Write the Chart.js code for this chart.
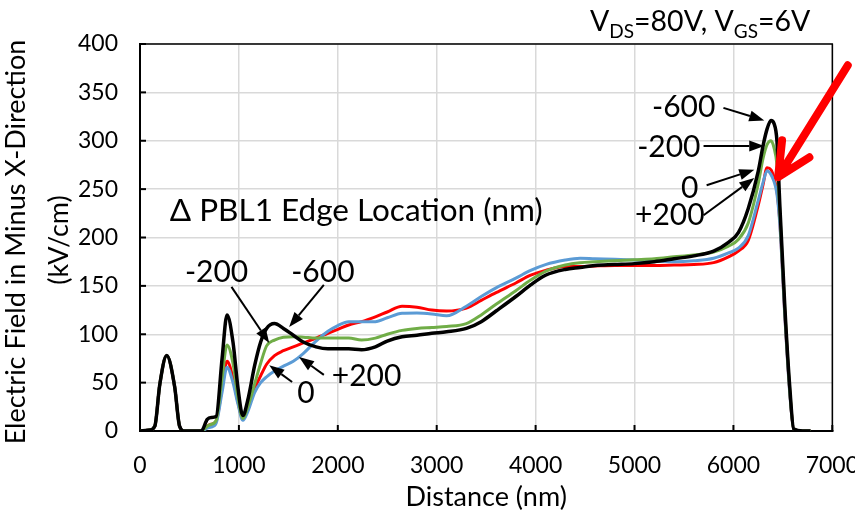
<!DOCTYPE html>
<html>
<head>
<meta charset="utf-8">
<script src="https://cdn.jsdelivr.net/npm/chart.js@4.4.1/dist/chart.umd.min.js"></script>
<style>
  html, body { margin: 0; padding: 0; background: #fff; overflow: hidden; }
  #wrap { width: 880px; height: 519px; }
</style>
</head>
<body>
<div id="wrap"><canvas id="chart" width="880" height="519"></canvas></div>
<script>
// distance along the device (nm)
const distance = [0, 100, 150, 200, 270, 350, 400, 450,
  620, 680, 720, 770, 830, 880, 940, 990, 1040, 1090,
  1160, 1220, 1280, 1360, 1450, 1550, 1650, 1780, 1900, 2000,
  2110, 2240, 2380, 2500, 2650, 2800, 2950, 3100, 3300, 3450,
  3600, 3800, 3950, 4100, 4300, 4450, 4600, 4800, 5000, 5200,
  5400, 5600, 5800, 5950, 6050, 6150, 6250, 6300, 6340, 6380,
  6410, 6440, 6470, 6520, 6570, 6610, 6700, 6780];

// electric field (kV/cm) for each PBL1 edge shift
const fieldM600 = [0, 1, 5, 48, 78, 46, 5, 0,
  0, 12, 14, 15, 75, 120, 92, 45, 16, 32,
  68, 92, 106, 111, 106, 99, 92, 87, 85, 85,
  85, 84, 87, 93, 97.5, 99, 101, 102.5, 106, 113,
  124, 139, 151, 161, 167, 169, 171, 172, 173, 175,
  178, 181, 186, 195, 205, 230, 268, 295, 312, 321,
  318, 300, 232, 128, 45, 2, 0, 0];

const fieldM200 = [0, 1, 5, 48, 78, 46, 5, 0,
  0, 5, 7, 11, 55, 89, 70, 35, 13, 25,
  49, 70, 88, 94, 97, 97.5, 97, 96, 96, 96,
  96, 94, 96, 100, 104, 106, 107, 108, 111, 120,
  131, 145, 156, 165, 171.6, 174, 175, 176, 177, 178,
  180, 182, 185, 191, 198, 215, 255, 282, 296, 300,
  293, 275, 225, 125, 42, 2, 0, 0];

const field0 = [0, 1, 5, 48, 78, 46, 5, 0,
  0, 5, 7, 10, 45, 72, 55, 30, 13, 22,
  44, 57, 69, 78, 83, 87, 91, 96, 101, 105,
  109.6, 113, 118, 123, 129, 128, 125, 124, 127, 135,
  143, 153, 161, 166, 170, 170, 170.5, 171, 171, 171,
  171.5, 172, 174, 180, 186, 197, 233, 255, 272, 270,
  262, 248, 215, 120, 40, 2, 0, 0];

const fieldP200 = [0, 1, 5, 48, 78, 46, 5, 0,
  0, 3, 4, 8, 40, 66, 50, 28, 11, 20,
  40, 50, 56, 62, 67, 72, 80, 93, 103, 109,
  113, 113, 113, 117, 121.6, 122, 121, 119, 129, 139,
  148, 158, 166, 172, 176.7, 178.5, 178, 177.5, 176.7, 176,
  175, 176, 178.5, 184, 189, 202, 238, 257, 269, 265,
  258, 245, 212, 118, 38, 2, 0, 0];

const seriesNames = ['0', '+200', '-200', '-600'];
const seriesColors = ['#ff0000', '#5b9bd5', '#70ad47', '#000000'];

// callouts in data units: text, text centre, arrow start, arrow tip
const callouts = [
  { text: '-200', tx: 774, ty: 164, sx: 925, sy: 149, ex: 1307, ey: 91 },
  { text: '-600', tx: 1849, ty: 164, sx: 1859, sy: 151, ex: 1508, ey: 107.5 },
  { text: '0', tx: 1678, ty: 39, sx: 1538, sy: 50.6, ex: 1307, ey: 68 },
  { text: '+200', tx: 2291, ty: 56, sx: 1859, sy: 58, ex: 1608, ey: 76.5 },
  { text: '-600', tx: 5497, ty: 335, sx: 5899, sy: 334, ex: 6312, ey: 321 },
  { text: '-200', tx: 5347, ty: 293.5, sx: 5698, sy: 294.6, ex: 6312, ey: 294.6 },
  { text: '0', tx: 5558, ty: 251, sx: 5729, sy: 254, ex: 6211, ey: 270 },
  { text: '+200', tx: 5357, ty: 223, sx: 5698, sy: 223, ex: 6211, ey: 261.5 }
];

const FONT = 'Lato, "Open Sans", sans-serif';

function pts(vals) {
  return distance.map((d, i) => ({ x: d, y: vals[i] }));
}

function arrow(ctx, x1, y1, x2, y2) {
  const ang = Math.atan2(y2 - y1, x2 - x1);
  const head = 15, hw = 11;
  const bx = x2 - head * Math.cos(ang), by = y2 - head * Math.sin(ang);
  ctx.strokeStyle = '#000';
  ctx.lineWidth = 2;
  ctx.beginPath();
  ctx.moveTo(x1, y1);
  ctx.lineTo(bx, by);
  ctx.stroke();
  ctx.fillStyle = '#000';
  ctx.beginPath();
  ctx.moveTo(x2, y2);
  ctx.lineTo(bx + hw / 2 * Math.sin(ang), by - hw / 2 * Math.cos(ang));
  ctx.lineTo(bx - hw / 2 * Math.sin(ang), by + hw / 2 * Math.cos(ang));
  ctx.closePath();
  ctx.fill();
}

// frame, inner ticks, titles, callouts
const decorations = {
  id: 'decorations',
  beforeDatasetsDraw(chart) {
    const { ctx, chartArea: a, scales: { x, y } } = chart;
    ctx.save();
    ctx.strokeStyle = '#000';
    ctx.lineWidth = 1.5;
    ctx.beginPath();
    ctx.moveTo(a.left, a.top);
    ctx.lineTo(a.right, a.top);
    ctx.lineTo(a.right, a.bottom);
    ctx.stroke();
    ctx.lineWidth = 2;
    y.ticks.forEach(t => {
      const py = y.getPixelForValue(t.value);
      ctx.beginPath(); ctx.moveTo(a.left, py); ctx.lineTo(a.left + 6, py); ctx.stroke();
    });
    x.ticks.forEach(t => {
      const px = x.getPixelForValue(t.value);
      ctx.beginPath(); ctx.moveTo(px, a.bottom); ctx.lineTo(px, a.bottom - 6); ctx.stroke();
    });
    ctx.restore();
  },
  afterDatasetsDraw(chart) {
    const { ctx, chartArea: a, scales: { x, y } } = chart;
    ctx.save();
    ctx.fillStyle = '#000';
    ctx.textBaseline = 'middle';

    // axis titles
    ctx.textAlign = 'center';
    ctx.font = '27px ' + FONT;
    ctx.fillText('Distance (nm)', (a.left + a.right) / 2, 497);
    ctx.save();
    ctx.translate(16, 242);
    ctx.rotate(-Math.PI / 2);
    ctx.fillText('Electric Field in Minus X-Direction', 0, 0);
    ctx.restore();
    ctx.save();
    ctx.translate(59, 240);
    ctx.rotate(-Math.PI / 2);
    ctx.fillText('(kV/cm)', 0, 0);
    ctx.restore();

    // legend heading
    ctx.textAlign = 'left';
    ctx.font = '31.5px ' + FONT;
    ctx.fillText('\u0394 PBL1 Edge Location (nm)', x.getPixelForValue(301), y.getPixelForValue(228));

    // callouts
    ctx.font = '30px ' + FONT;
    ctx.textAlign = 'center';
    callouts.forEach(c => {
      ctx.fillText(c.text, x.getPixelForValue(c.tx), y.getPixelForValue(c.ty));
      arrow(ctx, x.getPixelForValue(c.sx), y.getPixelForValue(c.sy),
        x.getPixelForValue(c.ex), y.getPixelForValue(c.ey));
    });

    // red pointer
    const tx = x.getPixelForValue(7156), ty = y.getPixelForValue(378);
    const hx = x.getPixelForValue(6452), hy = y.getPixelForValue(262.5);
    const back = Math.atan2(ty - hy, tx - hx);
    ctx.strokeStyle = '#ff0000';
    ctx.lineWidth = 8;
    ctx.lineCap = 'round';
    ctx.lineJoin = 'round';
    ctx.beginPath();
    ctx.moveTo(tx, ty);
    ctx.lineTo(hx, hy);
    ctx.moveTo(hx + 37 * Math.cos(back - 0.45), hy + 37 * Math.sin(back - 0.45));
    ctx.lineTo(hx, hy);
    ctx.lineTo(hx + 37 * Math.cos(back + 0.45), hy + 37 * Math.sin(back + 0.45));
    ctx.stroke();

    // bias condition
    const parts = [['V', 0], ['DS', 1], ['=80V, V', 0], ['GS', 1], ['=6V', 0]];
    let px = 590;
    ctx.textAlign = 'left';
    ctx.textBaseline = 'alphabetic';
    parts.forEach(([s, sub]) => {
      ctx.font = (sub ? '19px ' : '28.5px ') + FONT;
      ctx.fillText(s, px, sub ? 38 : 31);
      px += ctx.measureText(s).width;
    });
    ctx.restore();
  }
};

const ctx = document.getElementById('chart').getContext('2d');
const fields = [field0, fieldP200, fieldM200, fieldM600];
const drawOrder = [3, 2, 1, 0];

new Chart(ctx, {
  type: 'line',
  data: {
    datasets: fields.map((f, i) => ({
      label: seriesNames[i],
      data: pts(f),
      borderColor: seriesColors[i],
      backgroundColor: seriesColors[i],
      borderWidth: i === 3 ? 3.5 : 3,
      pointRadius: 0,
      cubicInterpolationMode: 'monotone',
      order: drawOrder[i]
    }))
  },
  options: {
    responsive: false,
    animation: false,
    devicePixelRatio: 1,
    layout: { padding: { left: 0, top: 44, right: 43, bottom: 0 } },
    plugins: { legend: { display: false }, tooltip: { enabled: false } },
    scales: {
      x: {
        type: 'linear',
        min: 0,
        max: 7000,
        ticks: {
          stepSize: 1000, color: '#000', padding: 21,
          font: { family: FONT, size: 23 },
          callback: v => String(v)
        },
        grid: { color: '#d9d9d9', lineWidth: 1.5, drawTicks: false },
        border: { color: '#000', width: 2 },
        afterFit: s => { s.height = 88; }
      },
      y: {
        min: 0,
        max: 400,
        ticks: { stepSize: 50, color: '#000', padding: 22, font: { family: FONT, size: 23 } },
        grid: { color: '#d9d9d9', lineWidth: 1.5, drawTicks: false },
        border: { color: '#000', width: 2 },
        afterFit: s => { s.width = 140; }
      }
    }
  },
  plugins: [decorations]
});
</script>
</body>
</html>
